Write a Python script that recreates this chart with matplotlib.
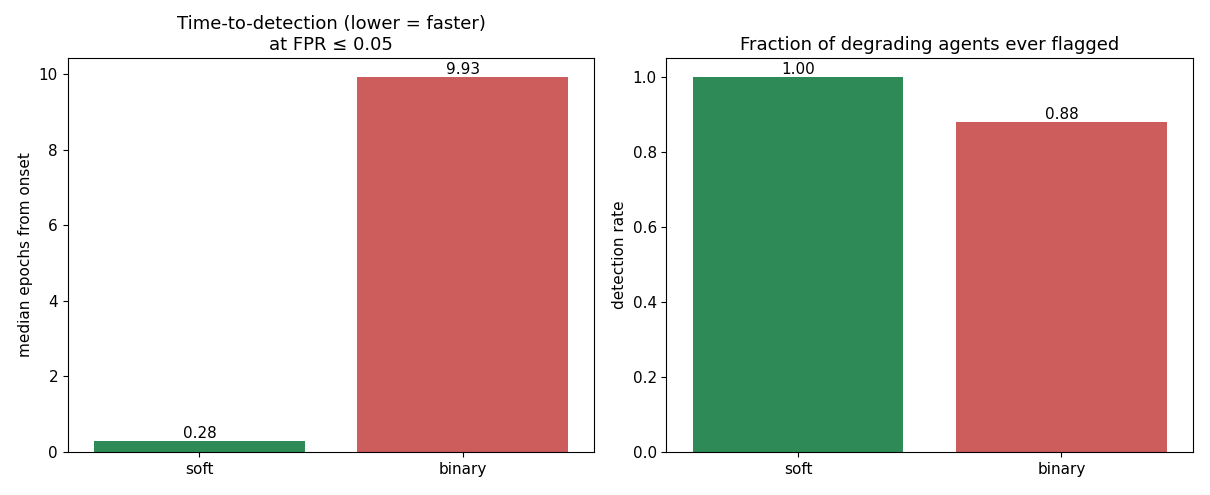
import matplotlib
matplotlib.use("Agg")
import matplotlib.pyplot as plt

methods = ["soft", "binary"]
ttd = [0.28, 9.93]
det_rate = [1.00, 0.88]
colors = ["#2E8B57", "#CD5C5C"]

fig, axes = plt.subplots(1, 2, figsize=(12.1, 4.95), dpi=100)
fig.subplots_adjust(left=0.056, right=0.986, top=0.883, bottom=0.087, wspace=0.137)

ax = axes[0]
bars = ax.bar(methods, ttd, color=colors, width=0.8)
ax.bar_label(bars, labels=[f"{v:.2f}" for v in ttd], fontsize=11)
ax.set_xlim(-0.5, 1.5)
ax.set_ylabel("median epochs from onset", fontsize=11)
ax.set_title("Time-to-detection (lower = faster)\nat FPR ≤ 0.05", fontsize=13)
ax.tick_params(labelsize=11)

ax = axes[1]
bars = ax.bar(methods, det_rate, color=colors, width=0.8)
ax.bar_label(bars, labels=[f"{v:.2f}" for v in det_rate], fontsize=11)
ax.set_xlim(-0.5, 1.5)
ax.set_ylabel("detection rate", fontsize=11)
ax.set_title("Fraction of degrading agents ever flagged", fontsize=13)
ax.tick_params(labelsize=11)

fig.savefig("out.png", dpi=100)
